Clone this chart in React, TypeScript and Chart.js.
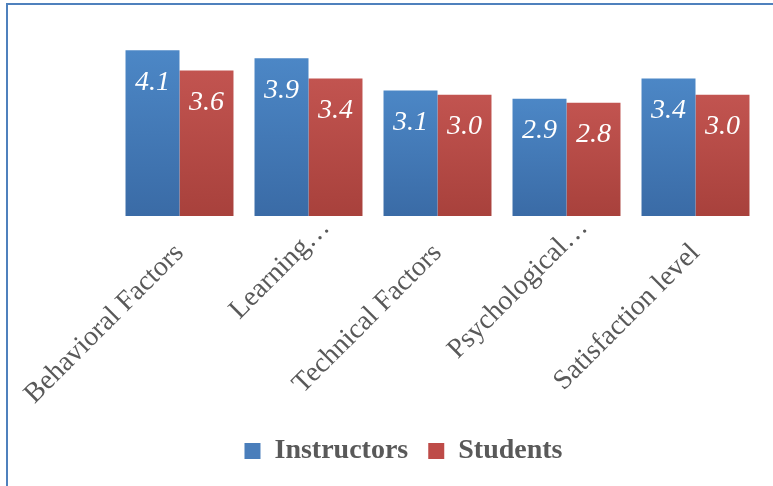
import React, { useEffect, useRef } from "react";
import { Chart, registerables } from "chart.js";

Chart.register(...registerables);

const categories = ["Behavioral Factors", "Learning…", "Technical Factors", "Psychological…", "Satisfaction level"];
const instructors = [4.1, 3.9, 3.1, 2.9, 3.4];
const students = [3.6, 3.4, 3.0, 2.8, 3.0];
const seriesNames = ["Instructors", "Students"];

const BLUE_TOP = "#4C87C6";
const BLUE_BOT = "#3A6BA6";
const RED_TOP = "#C25450";
const RED_BOT = "#A8413C";
const LABEL_FONT = "28px 'Liberation Serif', serif";
const TEXT_GREY = "#595959";

function grad(top: string, bot: string) {
  return (ctx: any) => {
    const chart = ctx.chart;
    const y = chart.scales && chart.scales.y;
    if (!chart.chartArea || !y || ctx.raw == null) return top;
    const y0 = y.getPixelForValue(ctx.raw);
    const y1 = y.getPixelForValue(0);
    const g = chart.ctx.createLinearGradient(0, y0, 0, y1);
    g.addColorStop(0, top);
    g.addColorStop(1, bot);
    return g;
  };
}

const valueLabels = {
  id: "valueLabels",
  afterDatasetsDraw(chart: any) {
    const c = chart.ctx;
    c.save();
    c.fillStyle = "#FFFFFF";
    c.font = "italic 28px 'Liberation Serif', serif";
    c.textAlign = "center";
    c.textBaseline = "middle";
    chart.data.datasets.forEach((ds: any, i: number) => {
      const meta = chart.getDatasetMeta(i);
      meta.data.forEach((bar: any, j: number) => {
        c.fillText(Number(ds.data[j]).toFixed(1), bar.x, bar.y + 32);
      });
    });
    c.restore();
  },
};

// Rotated category labels, placed at the x scale's tick pixels (Excel-style: truncated labels sit further along)
const categoryLabels = {
  id: "categoryLabels",
  afterDraw(chart: any) {
    const xs = chart.scales.x;
    const c = chart.ctx;
    const lh = 33.6;
    const rot = -Math.PI / 4;
    c.save();
    c.font = LABEL_FONT;
    c.fillStyle = TEXT_GREY;
    c.textAlign = "right";
    c.textBaseline = "middle";
    (chart.data.labels as string[]).forEach((lab, i) => {
      const px = xs.getPixelForTick(i) + (lh / 2) * Math.sin(rot);
      const py = xs.top + 21;
      const shift = lab.endsWith("…") ? 30 : 0;
      c.save();
      c.translate(px, py);
      c.rotate(rot);
      c.fillText(lab, shift, lh / 2 - (shift ? 6 : 0));
      c.restore();
    });
    c.restore();
  },
};

export default function App() {
  const ref = useRef<HTMLCanvasElement>(null);
  useEffect(() => {
    if (!ref.current) return;
    const chart = new Chart(ref.current, {
      type: "bar",
      data: {
        labels: categories,
        datasets: [
          {
            label: seriesNames[0],
            data: instructors,
            backgroundColor: grad(BLUE_TOP, BLUE_BOT),
            borderWidth: 0,
            barPercentage: 1,
            categoryPercentage: 0.837,
          },
          {
            label: seriesNames[1],
            data: students,
            backgroundColor: grad(RED_TOP, RED_BOT),
            borderWidth: 0,
            barPercentage: 1,
            categoryPercentage: 0.837,
          },
        ],
      },
      options: {
        animation: false,
        responsive: true,
        maintainAspectRatio: false,
        layout: { padding: { left: 47, right: 13, top: 34, bottom: 11 } },
        plugins: {
          tooltip: { enabled: false },
          legend: {
            position: "bottom",
            labels: {
              color: TEXT_GREY,
              font: { family: "'Liberation Serif', serif", size: 28, weight: "bold" },
              boxWidth: 16,
              boxHeight: 16,
              padding: 20,
              generateLabels: () => [
                { text: seriesNames[0], fillStyle: "#4A7EBB", strokeStyle: "#4A7EBB", lineWidth: 0, datasetIndex: 0, fontColor: TEXT_GREY },
                { text: seriesNames[1], fillStyle: "#BE4B48", strokeStyle: "#BE4B48", lineWidth: 0, datasetIndex: 1, fontColor: TEXT_GREY },
              ],
            },
          },
        },
        scales: {
          y: {
            display: true,
            min: 0,
            max: 4.5,
            grid: { display: false, drawTicks: false },
            border: { display: false },
            ticks: { display: false },
            afterFit: (s: any) => { s.width = 68; },
          },
          x: {
            grid: { display: false, drawTicks: false },
            border: { display: false },
            ticks: { display: false },
            afterFit: (s: any) => { s.height = 201; },
          },
        },
      },
      plugins: [valueLabels, categoryLabels],
    });
    return () => chart.destroy();
  }, []);
  return (
    <div style={{ position: "fixed", left: 0, top: 0, width: 773, height: 486, background: "#fff" }}>
      <div style={{ position: "absolute", left: 6, top: 3, width: 800, height: 520, border: "2px solid #4F81BD", boxSizing: "border-box" }} />
      <div style={{ position: "absolute", left: 0, top: 0, width: 773, height: 486 }}>
        <canvas ref={ref} />
      </div>
    </div>
  );
}
